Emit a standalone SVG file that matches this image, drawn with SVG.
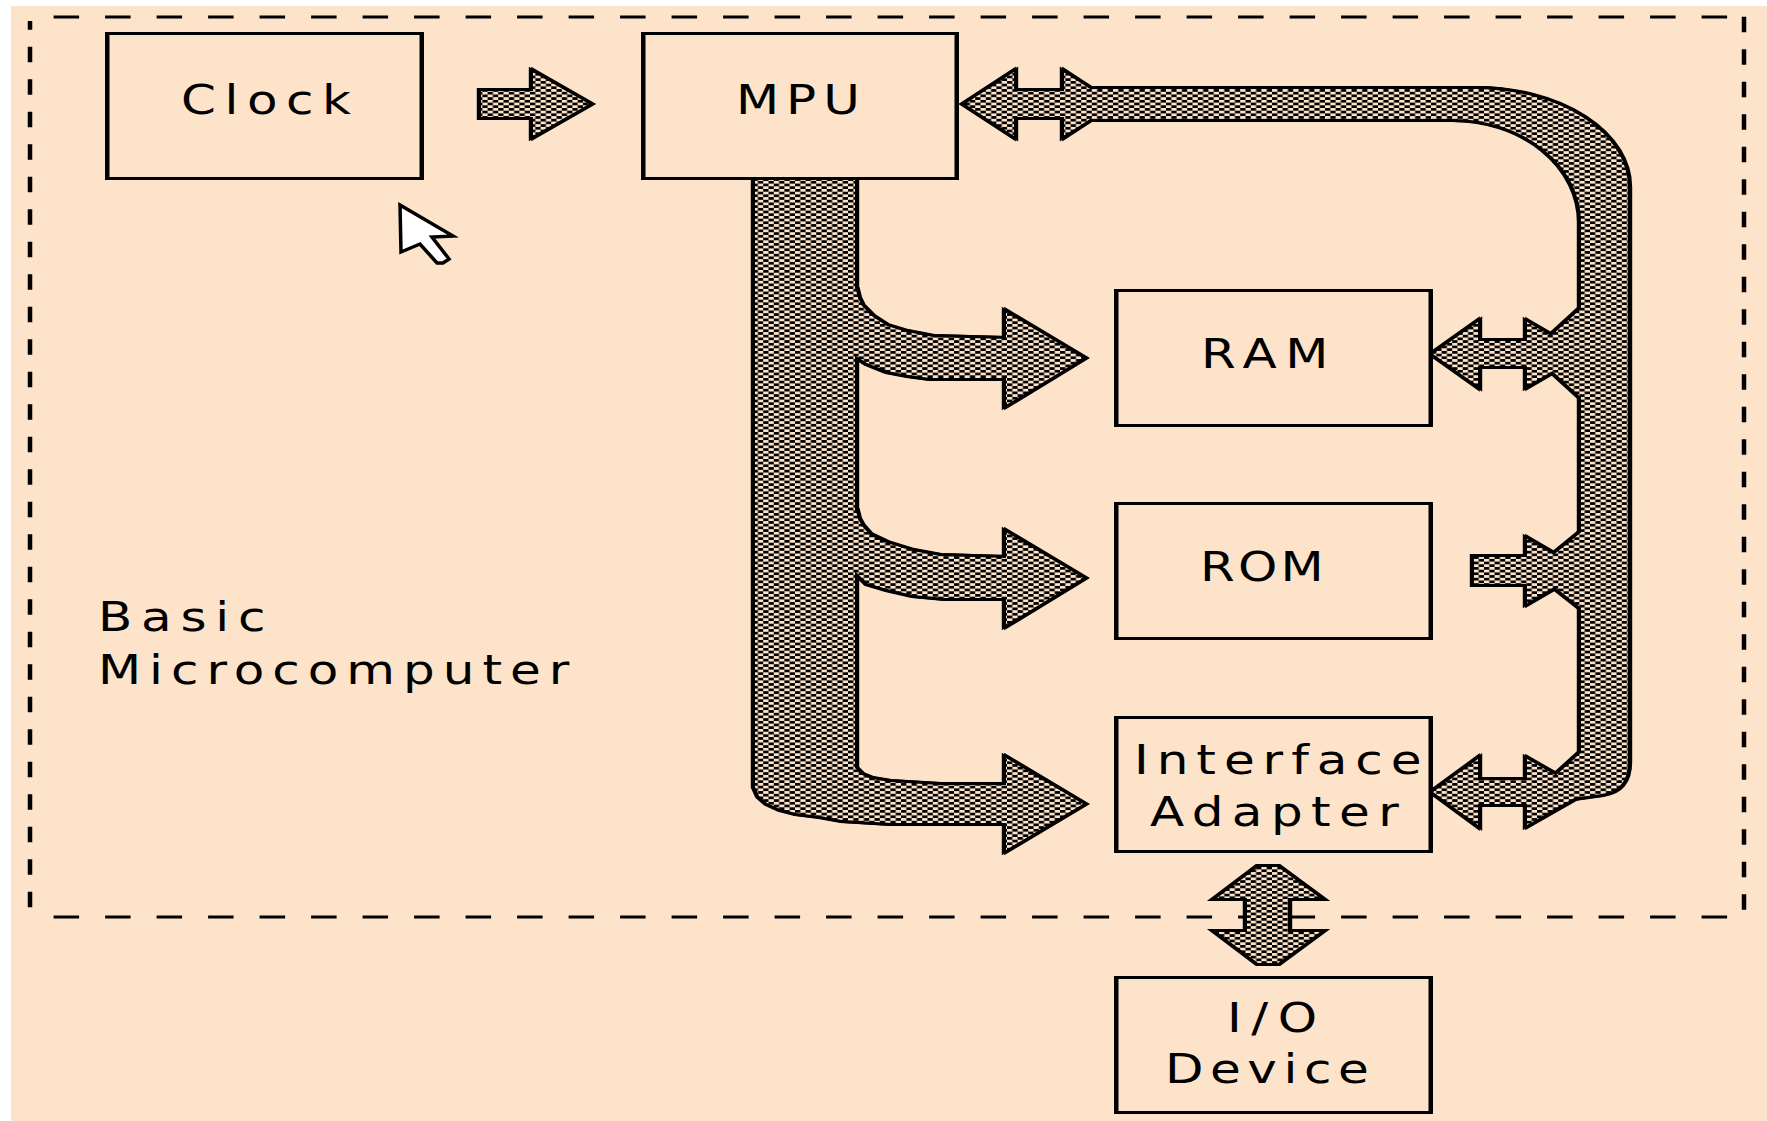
<svg xmlns="http://www.w3.org/2000/svg" xmlns:xlink="http://www.w3.org/1999/xlink" width="1767" height="1121" viewBox="0 0 1767 1121">
<style>
.lbl{font-family:"DejaVu Sans","Liberation Sans",sans-serif;font-size:40px;fill:#000;}
.boxo{fill:#000;}
.boxi{fill:#FDE3C9;}
.outline{fill:#000;stroke:#000;stroke-width:6;stroke-linejoin:miter;stroke-miterlimit:10;}
.fillc{fill:url(#chk);stroke:none;}
.dh{fill:none;stroke:#000;stroke-width:3;stroke-dasharray:25.5 26;}
.dv{fill:none;stroke:#000;stroke-width:4.5;stroke-dasharray:15.5 17;}
</style>
<defs>
<pattern id="chk" x="0" y="0" width="10.6" height="5.4" patternUnits="userSpaceOnUse">
<rect width="10.6" height="5.4" fill="#FDE3C9"/>
<rect width="5.3" height="2.7" fill="#000"/>
<rect x="5.3" y="2.7" width="5.3" height="2.7" fill="#000"/>
</pattern>
</defs>
<rect width="1767" height="1121" fill="#fff"/>
<rect x="11" y="6" width="1756" height="1115" fill="#FDE3C9"/>

<g id="boundary">
<path class="dh" d="M53.6 17 H1744"/>
<path class="dh" d="M53.6 917 H1744"/>
<path class="dv" d="M30 21 V917" stroke-dashoffset="6.8"/>
<path class="dv" d="M1744 16.7 V917"/>
<text class="lbl" transform="translate(98 631) scale(1.25 1)" textLength="134" lengthAdjust="spacing">Basic</text>
<text class="lbl" transform="translate(98 684) scale(1.25 1)" textLength="377" lengthAdjust="spacing">Microcomputer</text>
</g>

<g id="connectors">
<g class="outline" transform="translate(-1.2 0)"><use href="#links" xlink:href="#links"/></g>
<g class="outline" transform="translate(1.2 0)"><use href="#links" xlink:href="#links"/></g>
<g class="fillc">
<g id="links">
<path id="clock-mpu" d="M481 91 L533 91 L533 72 L589 104 L533 136 L533 117 L481 117 Z"/>
<path id="mpu-bus" d="M965 104 L1014 72 L1014 91 L1064 91 L1064 72 L1113 104 L1064 136 L1064 117 L1014 117 L1014 136 Z"/>
<path id="data-bus" d="M1090 89 L1476 89 A152 98 0 0 1 1628 187 L1628 762 Q1628 790 1602 794 L1566 799 L1566 775 L1581 760 L1581 222 A128 103 0 0 0 1453 119 L1090 119 Z"/>
<path id="j-ram" d="M1584 306 L1549 338 L1560 353 L1549 368 L1584 400 Z"/>
<path id="j-rom" d="M1584 530 L1551 557 L1560 570 L1551 584 L1584 610 Z"/>
<path id="j-ia" d="M1584 750 L1553 778 L1566 792 L1584 792 Z"/>
<path id="ram-bus" d="M1433 354 L1478 322 L1478 341 L1527 341 L1527 322 L1582 354 L1527 386 L1527 366 L1478 366 L1478 386 Z"/>
<path id="rom-bus" d="M1474 557 L1527 557 L1527 539 L1582 571 L1527 603 L1527 584 L1474 584 Z"/>
<path id="ia-bus" d="M1433 792 L1478 759 L1478 780 L1527 780 L1527 759 L1585 792 L1527 825 L1527 804 L1478 804 L1478 825 Z"/>
<path id="ia-io" d="M1258 867 L1278 867 L1320 898 L1288 898 L1288 932 L1320 932 L1278 963 L1258 963 L1217 932 L1247 932 L1247 898 L1217 898 Z"/>
<path id="addr-bus" d="M755 180 L855 180 L855 768 L862 775 L872 779 L890 782 L940 785 L1006 785 L1006 758 L1083 804 L1006 850 L1006 823 L891 823 L842 820 L820 816 L796 813 L780 809 L767 803 L759 796 L755 787 Z"/>
<path id="addr-ram" d="M850 290 L856 290 L858 298 L862 306 L873 317 L887 326 L907 332 L933 337 L1006 339 L1006 312 L1083 358 L1006 405 L1006 378 L930 378 L908 375 L887 371 L867 363 L856 356 L850 356 Z"/>
<path id="addr-rom" d="M850 511 L856 511 L858 519 L862 526 L870 535 L887 543 L913 551 L940 556 L1006 558 L1006 532 L1083 578 L1006 625 L1006 598 L945 598 L913 595 L887 589 L867 583 L856 572 L850 572 Z"/>
</g>
</g>
</g>

<g id="clock">
<rect class="boxo" x="105" y="32" width="319" height="148"/>
<rect class="boxi" x="109.5" y="35" width="310" height="142"/>
<text class="lbl" transform="translate(181 114) scale(1.25 1)" textLength="136" lengthAdjust="spacing">Clock</text>
</g>
<g id="mpu">
<rect class="boxo" x="641" y="32" width="318" height="148"/>
<rect class="boxi" x="645.5" y="35" width="309" height="142"/>
<text class="lbl" transform="translate(736 114) scale(1.25 1)" textLength="99" lengthAdjust="spacing">MPU</text>
</g>
<g id="ram">
<rect class="boxo" x="1114" y="289" width="319" height="138"/>
<rect class="boxi" x="1118.5" y="292" width="310" height="132"/>
<text class="lbl" transform="translate(1201 368) scale(1.25 1)" textLength="102" lengthAdjust="spacing">RAM</text>
</g>
<g id="rom">
<rect class="boxo" x="1114" y="502" width="319" height="138"/>
<rect class="boxi" x="1118.5" y="505" width="310" height="132"/>
<text class="lbl" transform="translate(1200 581) scale(1.25 1)" textLength="99" lengthAdjust="spacing">ROM</text>
</g>
<g id="interface-adapter">
<rect class="boxo" x="1114" y="716" width="319" height="137"/>
<rect class="boxi" x="1118.5" y="719" width="310" height="131"/>
<text class="lbl" transform="translate(1134 774) scale(1.25 1)" textLength="230" lengthAdjust="spacing">Interface</text>
<text class="lbl" transform="translate(1150 826) scale(1.25 1)" textLength="199" lengthAdjust="spacing">Adapter</text>
</g>
<g id="io-device">
<rect class="boxo" x="1114" y="976" width="319" height="138"/>
<rect class="boxi" x="1118.5" y="979" width="310" height="132"/>
<text class="lbl" transform="translate(1227 1032) scale(1.25 1)" textLength="72" lengthAdjust="spacing">I/O</text>
<text class="lbl" transform="translate(1165 1083) scale(1.25 1)" textLength="163" lengthAdjust="spacing">Device</text>
</g>

<g id="cursor">
<path d="M400 205 L453 236 L432 237 L449 259 L443 263 L437 263 L420 244 L401 252 Z" fill="#fff" stroke="#000" stroke-width="3.5" stroke-linejoin="miter"/>
</g>
</svg>
